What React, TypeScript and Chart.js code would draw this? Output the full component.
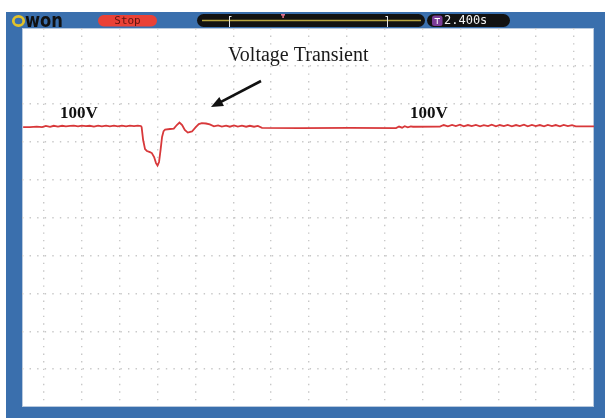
import React, { useEffect, useRef } from "react";
import { Chart, registerables } from "chart.js";

Chart.register(...registerables);

// ---- data (time in ms, voltage in V; 100 ms/div, 20 V/div) ----
const traceTimeMs = [
  -55, -37, -19, -5, 5, 16, 26, 37, 48, 58, 69, 79, 90, 100, 111, 121, 132, 143, 153, 164, 174, 185, 195, 206, 217, 227, 238, 248, 256,
  258, 262, 267, 272, 280, 285, 291, 296, 300, 304, 308, 312, 316, 320, 333, 343, 351, 358, 365, 372, 380, 391, 401, 409, 417, 428, 438,
  449, 460, 470, 481, 491, 502, 512, 523, 534, 544, 555, 565, 576,
  676, 808, 930,
  938, 946, 953, 961, 969, 975,
  1046,
  1056, 1067, 1078, 1088, 1099, 1109, 1120, 1130, 1141, 1152, 1162, 1173, 1183, 1194, 1204, 1215, 1225, 1236, 1247, 1257,
  1268, 1278, 1289, 1299, 1310, 1321, 1331, 1342, 1352, 1363, 1373, 1384, 1395,
  1405, 1453,
];
const traceVolts = [
  99.7, 99.7, 100.0, 99.7, 100.3, 99.8, 100.4, 100.0, 100.4, 100.1, 100.3, 100.5, 100.1, 100.5, 100.2, 100.4, 100.0, 100.5, 100.1, 100.5, 100.1, 100.5, 100.1, 100.5, 100.1, 100.5, 100.2, 100.5, 100.3,
  99.7, 92.9, 88.1, 87.1, 86.5, 86.0, 83.9, 80.7, 79.4, 81.3, 87.6, 94.5, 97.6, 98.4, 98.7, 98.9, 100.8, 102.1, 100.8, 98.2, 96.8, 97.4, 99.7, 101.3, 101.8, 101.6, 101.1,
  100.1, 100.6, 100.0, 100.5, 99.9, 100.6, 100.0, 100.5, 99.9, 100.4, 99.9, 100.3, 99.3,
  99.2, 99.3, 99.2,
  100.0, 99.4, 100.2, 99.6, 100.1, 99.9,
  100.0,
  100.8, 100.1, 100.9, 100.2, 101.0, 100.1, 100.8, 100.2, 100.9, 100.1, 100.7, 100.2, 101.0, 100.1, 100.8, 100.2, 100.9, 100.1, 100.8, 100.2,
  101.0, 100.1, 100.9, 100.2, 100.8, 100.1, 100.9, 100.2, 100.8, 100.1, 100.9, 100.2, 100.7,
  100.1, 100.1,
];
const timeGridTicks = [0, 100, 200, 300, 400, 500, 600, 700, 800, 900, 1000, 1100, 1200, 1300, 1400];
const voltGridTicks = [132, 112, 92, 72, 52, 32, 12, -8, -28];
const TIME_MIN = -58;
const TIME_MAX = 1453;
const VOLT_MIN = -48;
const VOLT_MAX = 152;

const annotationTitle = "Voltage Transient";
const levelLabel = "100V";
const runState = "Stop";
const timeReadout = "2.400s";
const brandRest = "won";

function roundRect(ctx: CanvasRenderingContext2D, x: number, y: number, w: number, h: number, r: number) {
  ctx.beginPath();
  ctx.moveTo(x + r, y);
  ctx.lineTo(x + w - r, y);
  ctx.arc(x + w - r, y + r, r, -Math.PI / 2, 0);
  ctx.lineTo(x + w, y + h - r);
  ctx.arc(x + w - r, y + h - r, r, 0, Math.PI / 2);
  ctx.lineTo(x + r, y + h);
  ctx.arc(x + r, y + h - r, r, Math.PI / 2, Math.PI);
  ctx.lineTo(x, y + r);
  ctx.arc(x + r, y + r, r, Math.PI, Math.PI * 1.5);
  ctx.closePath();
}

const scopeFrame = {
  id: "scopeFrame",
  beforeDraw(chart: any) {
    const ctx: CanvasRenderingContext2D = chart.ctx;
    const { width, height } = chart;
    const a = chart.chartArea;
    ctx.save();
    ctx.fillStyle = "#ffffff";
    ctx.fillRect(0, 0, width, height);
    ctx.fillStyle = "#3a6fad";
    ctx.fillRect(6, 12, width - 6, height - 12);
    ctx.fillStyle = "#ffffff";
    ctx.fillRect(a.left, a.top, a.right - a.left, a.bottom - a.top);
    ctx.strokeStyle = "#b8c9de";
    ctx.lineWidth = 1;
    ctx.strokeRect(a.left + 0.5, a.top + 0.5, a.right - a.left - 1, a.bottom - a.top - 1);
    ctx.restore();
  },
  afterDraw(chart: any) {
    const ctx: CanvasRenderingContext2D = chart.ctx;
    ctx.save();
    // logo
    ctx.strokeStyle = "#e2c22a";
    ctx.lineWidth = 2.8;
    ctx.beginPath();
    ctx.ellipse(18.5, 21, 5.2, 4.6, 0, 0, Math.PI * 2);
    ctx.stroke();
    ctx.fillStyle = "#111111";
    ctx.font = "bold 19px 'DejaVu Sans'";
    ctx.textBaseline = "alphabetic";
    ctx.textAlign = "left";
    ctx.save();
    ctx.translate(25, 26.5);
    ctx.scale(0.86, 1.0);
    ctx.fillText(brandRest, 0, 0);
    ctx.restore();

    // Stop pill
    ctx.fillStyle = "#ea4136";
    roundRect(ctx, 98, 15, 59, 11.5, 5.7);
    ctx.fill();
    ctx.fillStyle = "#5e1410";
    ctx.font = "11px 'DejaVu Sans Mono'";
    ctx.textAlign = "center";
    ctx.textBaseline = "middle";
    ctx.fillText(runState, 127.5, 21);

    // time-base pill
    ctx.fillStyle = "#121212";
    roundRect(ctx, 197, 14, 228, 13, 6.5);
    ctx.fill();
    ctx.strokeStyle = "#b7a53f";
    ctx.lineWidth = 1.5;
    ctx.beginPath();
    ctx.moveTo(202, 20.5);
    ctx.lineTo(421, 20.5);
    ctx.stroke();
    ctx.strokeStyle = "#e6e6e6";
    ctx.lineWidth = 1;
    ctx.beginPath();
    ctx.moveTo(229.5, 16);
    ctx.lineTo(229.5, 27);
    ctx.moveTo(229.5, 16.5);
    ctx.lineTo(231.5, 16.5);
    ctx.moveTo(387.5, 16);
    ctx.lineTo(387.5, 27);
    ctx.moveTo(387.5, 16.5);
    ctx.lineTo(385.5, 16.5);
    ctx.stroke();
    ctx.fillStyle = "#e0708c";
    ctx.fillRect(281, 14, 4, 1.6);
    ctx.fillRect(282.3, 14, 1.6, 4);

    // trigger/time readout pill
    ctx.fillStyle = "#121212";
    roundRect(ctx, 427, 14, 83, 13, 6.5);
    ctx.fill();
    ctx.fillStyle = "#7b3d97";
    roundRect(ctx, 432, 15.5, 10.5, 10.5, 2.5);
    ctx.fill();
    ctx.strokeStyle = "#ffffff";
    ctx.lineWidth = 1;
    ctx.beginPath();
    ctx.moveTo(434.5, 18.5);
    ctx.lineTo(440, 18.5);
    ctx.moveTo(437.25, 18.5);
    ctx.lineTo(437.25, 24);
    ctx.stroke();
    ctx.fillStyle = "#f2f2f2";
    ctx.font = "12px 'DejaVu Sans Mono'";
    ctx.textAlign = "left";
    ctx.textBaseline = "middle";
    ctx.fillText(timeReadout, 444, 21);

    // annotations
    ctx.fillStyle = "#1a1a1a";
    ctx.font = "20px 'Liberation Serif'";
    ctx.textAlign = "left";
    ctx.textBaseline = "alphabetic";
    ctx.fillText(annotationTitle, 228, 61);
    ctx.fillStyle = "#111111";
    ctx.font = "bold 17px 'Liberation Serif'";
    ctx.fillText(levelLabel, 60, 117.5);
    ctx.fillText(levelLabel, 410, 118);

    // arrow
    const x1 = 261, y1 = 81, x2 = 211, y2 = 107;
    const ang = Math.atan2(y2 - y1, x2 - x1);
    ctx.strokeStyle = "#111111";
    ctx.lineWidth = 2.6;
    ctx.beginPath();
    ctx.moveTo(x1, y1);
    ctx.lineTo(x2 - 8 * Math.cos(ang), y2 - 8 * Math.sin(ang));
    ctx.stroke();
    ctx.fillStyle = "#111111";
    ctx.beginPath();
    ctx.moveTo(x2, y2);
    ctx.lineTo(x2 - 12 * Math.cos(ang) + 5 * Math.sin(ang), y2 - 12 * Math.sin(ang) - 5 * Math.cos(ang));
    ctx.lineTo(x2 - 12 * Math.cos(ang) - 5 * Math.sin(ang), y2 - 12 * Math.sin(ang) + 5 * Math.cos(ang));
    ctx.closePath();
    ctx.fill();
    ctx.restore();
  },
};

export default function App() {
  const canvasRef = useRef<HTMLCanvasElement | null>(null);

  useEffect(() => {
    document.body.style.margin = "0";
    const canvas = canvasRef.current;
    if (!canvas) return;
    const points = traceTimeMs.map((t, i) => ({ x: t, y: traceVolts[i] }));
    const gridStyle = {
      color: "#c8c8c8",
      lineWidth: 1.4,
      drawTicks: false,
    };
    const chart = new Chart(canvas, {
      type: "line",
      data: {
        datasets: [
          {
            label: "CH1",
            data: points,
            borderColor: "#d8383a",
            borderWidth: 1.8,
            pointRadius: 0,
            tension: 0,
            fill: false,
          },
        ],
      },
      options: {
        responsive: false,
        animation: false,
        devicePixelRatio: 1,
        layout: { padding: { left: 22, top: 28, right: 11, bottom: 11 } },
        plugins: { legend: { display: false }, tooltip: { enabled: false }, title: { display: false } },
        scales: {
          x: {
            type: "linear",
            min: TIME_MIN,
            max: TIME_MAX,
            ticks: { display: false },
            grid: gridStyle,
            border: { display: false, dash: [1.4, 6.17] },
            afterBuildTicks: (s: any) => {
              s.ticks = timeGridTicks.map((v) => ({ value: v }));
            },
          },
          y: {
            type: "linear",
            min: VOLT_MIN,
            max: VOLT_MAX,
            ticks: { display: false },
            grid: gridStyle,
            border: { display: false, dash: [1.4, 6.17] },
            afterBuildTicks: (s: any) => {
              s.ticks = voltGridTicks.map((v) => ({ value: v }));
            },
          },
        },
      } as any,
      plugins: [scopeFrame],
    });
    return () => chart.destroy();
  }, []);

  return (
    <div style={{ position: "fixed", left: 0, top: 0, width: 605, height: 418 }}>
      <canvas ref={canvasRef} width={605} height={418} style={{ width: 605, height: 418, display: "block" }} />
    </div>
  );
}
